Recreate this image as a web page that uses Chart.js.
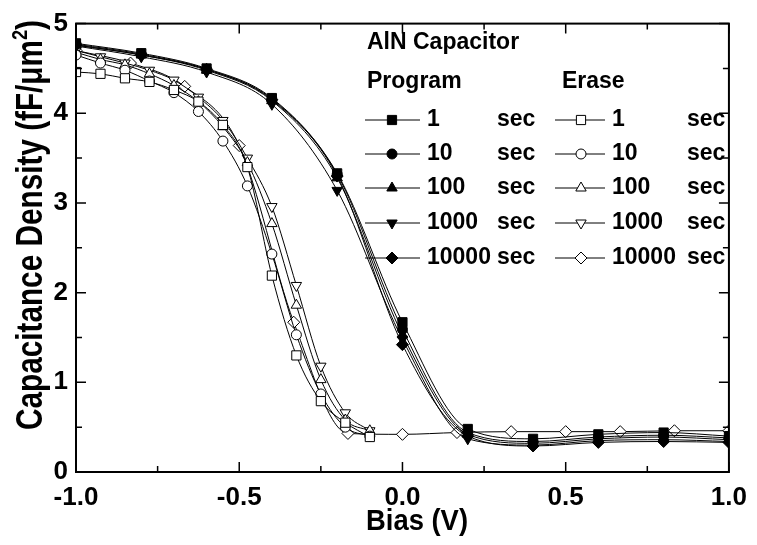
<!DOCTYPE html>
<html lang="en">
<head>
    <meta charset="UTF-8">
    <title>AlN Capacitor C-V</title>
    <script src="https://cdn.jsdelivr.net/npm/chart.js@4/dist/chart.umd.min.js"></script>
    <style>
        body { margin: 0; background: #fff; }
    </style>
</head>
<body>
    <canvas id="cvChart" width="757" height="545"></canvas>
    <script>
        // Program curves (filled markers), bias every 0.2 V
        const progBias = [-1.0, -0.8, -0.6, -0.4, -0.2, 0.0, 0.2, 0.4, 0.6, 0.8, 1.0];
        const prog1 = [4.78, 4.67, 4.50, 4.17, 3.33, 1.67, 0.48, 0.37, 0.42, 0.44, 0.40];
        const prog10 = [4.77, 4.66, 4.49, 4.16, 3.32, 1.59, 0.44, 0.34, 0.39, 0.41, 0.38];
        const prog100 = [4.76, 4.65, 4.48, 4.14, 3.28, 1.53, 0.42, 0.32, 0.37, 0.39, 0.36];
        const prog1000 = [4.75, 4.63, 4.46, 4.10, 3.14, 1.48, 0.37, 0.30, 0.35, 0.36, 0.34];
        const prog10000 = [4.76, 4.65, 4.49, 4.15, 3.30, 1.42, 0.40, 0.29, 0.33, 0.34, 0.33];

        // Erase curves (open markers)
        const eraseBias = [-1.0, -0.925, -0.85, -0.775, -0.7, -0.625, -0.55, -0.475, -0.4, -0.325, -0.25, -0.175, -0.1];
        const erase1 = [4.46, 4.44, 4.39, 4.35, 4.26, 4.13, 3.87, 3.40, 2.19, 1.30, 0.79, 0.55, 0.39];
        const erase10 = [4.65, 4.56, 4.48, 4.36, 4.23, 4.02, 3.69, 3.19, 2.43, 1.53, 0.87, 0.50, 0.40];
        const erase100 = [4.68, 4.60, 4.54, 4.44, 4.31, 4.13, 3.85, 3.45, 2.77, 1.86, 1.03, 0.58, 0.46];
        const erase1000 = [4.70, 4.63, 4.56, 4.48, 4.37, 4.18, 3.92, 3.50, 2.96, 2.08, 1.18, 0.66, 0.46];
        const erase10000Bias = [-1.0, -0.833, -0.667, -0.5, -0.333, -0.167, 0.0, 0.167, 0.333, 0.5, 0.667, 0.833, 1.0];
        const erase10000 = [4.70, 4.56, 4.30, 3.64, 1.67, 0.43, 0.42, 0.44, 0.45, 0.45, 0.45, 0.46, 0.46];

        const timeLabels = ['1', '10', '100', '1000', '10000'];

        const xMajorTicks = [-1.0, -0.5, 0.0, 0.5, 1.0];
        const xMinorTicks = [-0.75, -0.25, 0.25, 0.75];
        const yMajorTicks = [0, 1, 2, 3, 4, 5];
        const yMinorTicks = [0.5, 1.5, 2.5, 3.5, 4.5];

        const FONT = '"Liberation Sans", Arial, sans-serif';

        const toPoints = (xs, ys) => xs.map((x, i) => ({ x: x, y: ys[i] }));

        // marker styles: [pointStyle, radius, rotation]
        const markers = [
            ['rect', 6.5, 0],
            ['circle', 5, 0],
            ['triangle', 6, 0],
            ['triangle', 6, 180],
            ['rectRot', 6, 0]
        ];

        const makeSet = (label, pts, i, filled) => ({
            label: label,
            data: pts,
            borderColor: '#000',
            borderWidth: 1,
            pointStyle: markers[i][0],
            pointRadius: markers[i][1],
            pointRotation: markers[i][2],
            pointBackgroundColor: filled ? '#000' : '#fff',
            pointBorderColor: '#000',
            pointBorderWidth: 1,
            cubicInterpolationMode: 'monotone',
            fill: false
        });

        const progSeries = [prog1, prog10, prog100, prog1000, prog10000];
        const eraseSeries = [
            toPoints(eraseBias, erase1),
            toPoints(eraseBias, erase10),
            toPoints(eraseBias, erase100),
            toPoints(eraseBias, erase1000),
            toPoints(erase10000Bias, erase10000)
        ];

        const datasets = [];
        progSeries.forEach((ys, i) => datasets.push(makeSet('Program ' + timeLabels[i] + ' sec', toPoints(progBias, ys), i, true)));
        eraseSeries.forEach((pts, i) => datasets.push(makeSet('Erase ' + timeLabels[i] + ' sec', pts, i, false)));

        // draw a marker for the legend
        const drawMarker = (ctx, i, filled, x, y) => {
            ctx.save();
            ctx.fillStyle = filled ? '#000' : '#fff';
            ctx.strokeStyle = '#000';
            ctx.lineWidth = 1;
            Chart.helpers.drawPoint(ctx, {
                pointStyle: markers[i][0],
                radius: markers[i][1],
                rotation: markers[i][2],
                borderWidth: 1
            }, x, y);
            ctx.restore();
        };

        // text squeezed/stretched to a given width
        const fitText = (ctx, txt, font, cx, baseY, width) => {
            ctx.save();
            ctx.font = font;
            const w = ctx.measureText(txt).width;
            ctx.translate(cx, baseY);
            ctx.scale(width / w, 1);
            ctx.textAlign = 'center';
            ctx.textBaseline = 'alphabetic';
            ctx.fillText(txt, 0, 0);
            ctx.restore();
        };

        // inward ticks on all four sides plus the frame, axis titles and legend
        const framePlugin = {
            id: 'framePlugin',
            afterDraw(chart) {
                const { ctx, chartArea: a, scales: { x, y } } = chart;
                ctx.save();
                ctx.strokeStyle = '#000';
                ctx.lineWidth = 2;
                ctx.strokeRect(a.left, a.top, a.right - a.left, a.bottom - a.top);

                ctx.lineWidth = 1.5;
                const xTick = (v, len) => {
                    const px = x.getPixelForValue(v);
                    ctx.beginPath();
                    ctx.moveTo(px, a.bottom); ctx.lineTo(px, a.bottom - len);
                    ctx.moveTo(px, a.top); ctx.lineTo(px, a.top + len);
                    ctx.stroke();
                };
                const yTick = (v, len) => {
                    const py = y.getPixelForValue(v);
                    ctx.beginPath();
                    ctx.moveTo(a.left, py); ctx.lineTo(a.left + len, py);
                    ctx.moveTo(a.right, py); ctx.lineTo(a.right - len, py);
                    ctx.stroke();
                };
                xMajorTicks.forEach(v => xTick(v, 10));
                xMinorTicks.forEach(v => xTick(v, 6));
                yMajorTicks.forEach(v => yTick(v, 10));
                yMinorTicks.forEach(v => yTick(v, 6));

                ctx.fillStyle = '#000';
                // x-axis title
                fitText(ctx, 'Bias (V)', 'bold 30px ' + FONT, 417, 530, 102);

                // y-axis title, rotated, with superscript
                ctx.translate(42, 225);
                ctx.rotate(-Math.PI / 2);
                const mainTxt = 'Capacitance Density (fF/\u03bcm';
                const bigFont = 'bold 36px ' + FONT;
                const supFont = 'bold 22px ' + FONT;
                ctx.font = bigFont;
                const wMain = ctx.measureText(mainTxt).width;
                const wTail = ctx.measureText(')').width;
                ctx.font = supFont;
                const wSup = ctx.measureText('2').width;
                const total = wMain + wSup + wTail;
                ctx.scale(410 / total, 1);
                ctx.textAlign = 'left';
                ctx.textBaseline = 'alphabetic';
                let tx = -total / 2;
                ctx.font = bigFont;
                ctx.fillText(mainTxt, tx, 0);
                tx += wMain;
                ctx.font = supFont;
                ctx.fillText('2', tx, -15);
                tx += wSup;
                ctx.font = bigFont;
                ctx.fillText(')', tx, 0);
                ctx.restore();

                // legend
                ctx.save();
                ctx.fillStyle = '#000';
                ctx.strokeStyle = '#000';
                ctx.font = 'bold 23px ' + FONT;
                ctx.textBaseline = 'middle';
                ctx.textAlign = 'left';
                ctx.fillText('AlN Capacitor', 367, 43);
                ctx.fillText('Program', 367, 82);
                ctx.fillText('Erase', 562, 82);
                const rowY = [120, 154, 188, 223, 258];
                rowY.forEach((ry, i) => {
                    ctx.lineWidth = 1;
                    ctx.beginPath();
                    ctx.moveTo(365, ry); ctx.lineTo(420, ry);
                    ctx.moveTo(555, ry); ctx.lineTo(605, ry);
                    ctx.stroke();
                    drawMarker(ctx, i, true, 392, ry);
                    drawMarker(ctx, i, false, 581, ry);
                    ctx.fillText(timeLabels[i], 427, ry);
                    ctx.fillText('sec', 497, ry);
                    ctx.fillText(timeLabels[i], 612, ry);
                    ctx.fillText('sec', 687, ry);
                });
                ctx.restore();
            }
        };

        const ctx = document.getElementById('cvChart').getContext('2d');
        new Chart(ctx, {
            type: 'line',
            data: { datasets: datasets },
            options: {
                responsive: false,
                animation: false,
                devicePixelRatio: 1,
                layout: { padding: { left: 0, right: 25, top: 18, bottom: 0 } },
                plugins: {
                    legend: { display: false },
                    tooltip: { enabled: false }
                },
                scales: {
                    x: {
                        type: 'linear',
                        min: -1,
                        max: 1,
                        afterFit: (s) => { s.height = 73; },
                        afterBuildTicks: (s) => { s.ticks = xMajorTicks.map(v => ({ value: v })); },
                        grid: { display: false, drawTicks: false },
                        border: { display: false },
                        ticks: {
                            color: '#000',
                            padding: 10,
                            maxRotation: 0,
                            font: { family: FONT, size: 26, weight: 'bold' },
                            callback: (v) => v.toFixed(1)
                        }
                    },
                    y: {
                        min: 0,
                        max: 5,
                        afterFit: (s) => { s.width = 76; },
                        afterBuildTicks: (s) => { s.ticks = yMajorTicks.map(v => ({ value: v })); },
                        grid: { display: false, drawTicks: false },
                        border: { display: false },
                        ticks: {
                            color: '#000',
                            padding: 8,
                            font: { family: FONT, size: 26, weight: 'bold' },
                            callback: (v) => String(v)
                        }
                    }
                }
            },
            plugins: [framePlugin]
        });
    </script>
</body>
</html>
